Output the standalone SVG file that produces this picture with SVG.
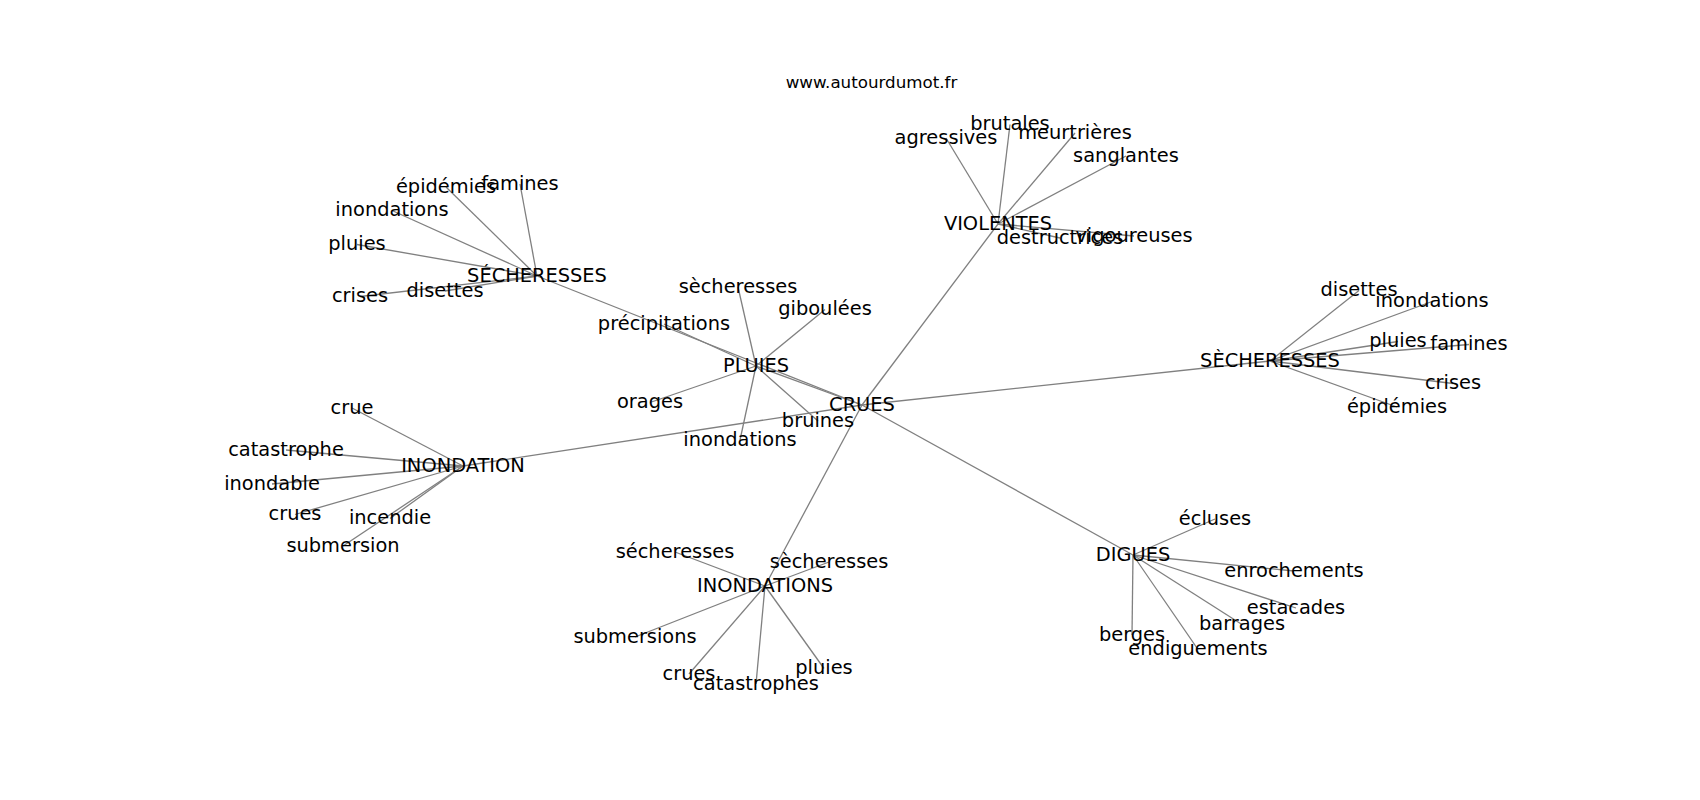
<svg xmlns="http://www.w3.org/2000/svg" width="1700" height="800" viewBox="0 0 1700 800">
<style>
.e{stroke:#808080;stroke-width:1.3;fill:none}
text{font-family:"DejaVu Sans",sans-serif;font-size:19.4px;fill:#000;text-anchor:middle}
.t{font-size:16.7px}
</style>
<rect width="1700" height="800" fill="#fff"/>
<text class="t" x="871.5" y="88">www.autourdumot.fr</text>
<g id="edges">
<line class="e" x1="862" y1="405" x2="756" y2="366"/>
<line class="e" x1="862" y1="405" x2="537" y2="276"/>
<line class="e" x1="862" y1="405" x2="998" y2="224"/>
<line class="e" x1="862" y1="405" x2="1270" y2="361"/>
<line class="e" x1="862" y1="405" x2="463" y2="466"/>
<line class="e" x1="862" y1="405" x2="765" y2="586"/>
<line class="e" x1="862" y1="405" x2="1133" y2="555"/>
<line class="e" x1="756" y1="366" x2="738" y2="287"/>
<line class="e" x1="756" y1="366" x2="825" y2="309.5"/>
<line class="e" x1="756" y1="366" x2="664" y2="324"/>
<line class="e" x1="756" y1="366" x2="650" y2="402.5"/>
<line class="e" x1="756" y1="366" x2="818" y2="421"/>
<line class="e" x1="756" y1="366" x2="740" y2="440"/>
<line class="e" x1="537" y1="276" x2="520" y2="184"/>
<line class="e" x1="537" y1="276" x2="446" y2="187"/>
<line class="e" x1="537" y1="276" x2="392" y2="210.5"/>
<line class="e" x1="537" y1="276" x2="357" y2="244.5"/>
<line class="e" x1="537" y1="276" x2="360" y2="296.5"/>
<line class="e" x1="537" y1="276" x2="445" y2="291"/>
<line class="e" x1="998" y1="224" x2="1010" y2="124.5"/>
<line class="e" x1="998" y1="224" x2="946" y2="138"/>
<line class="e" x1="998" y1="224" x2="1075" y2="133"/>
<line class="e" x1="998" y1="224" x2="1126" y2="156"/>
<line class="e" x1="998" y1="224" x2="1060" y2="238"/>
<line class="e" x1="998" y1="224" x2="1134" y2="236"/>
<line class="e" x1="1270" y1="361" x2="1359" y2="290.5"/>
<line class="e" x1="1270" y1="361" x2="1432" y2="301.5"/>
<line class="e" x1="1270" y1="361" x2="1398" y2="341.5"/>
<line class="e" x1="1270" y1="361" x2="1469" y2="344.5"/>
<line class="e" x1="1270" y1="361" x2="1453" y2="383.5"/>
<line class="e" x1="1270" y1="361" x2="1397" y2="407"/>
<line class="e" x1="463" y1="466" x2="352" y2="408"/>
<line class="e" x1="463" y1="466" x2="286" y2="450"/>
<line class="e" x1="463" y1="466" x2="272" y2="484"/>
<line class="e" x1="463" y1="466" x2="295" y2="514.5"/>
<line class="e" x1="463" y1="466" x2="390" y2="518.5"/>
<line class="e" x1="463" y1="466" x2="343" y2="546"/>
<line class="e" x1="765" y1="586" x2="675" y2="552"/>
<line class="e" x1="765" y1="586" x2="829" y2="562"/>
<line class="e" x1="765" y1="586" x2="635" y2="637"/>
<line class="e" x1="765" y1="586" x2="689" y2="674"/>
<line class="e" x1="765" y1="586" x2="756" y2="684"/>
<line class="e" x1="765" y1="586" x2="824" y2="668.5"/>
<line class="e" x1="1133" y1="555" x2="1215" y2="519"/>
<line class="e" x1="1133" y1="555" x2="1294" y2="571"/>
<line class="e" x1="1133" y1="555" x2="1296" y2="608"/>
<line class="e" x1="1133" y1="555" x2="1242" y2="624.5"/>
<line class="e" x1="1133" y1="555" x2="1132" y2="635"/>
<line class="e" x1="1133" y1="555" x2="1198" y2="649.5"/>
</g>
<g id="n-crues"><text x="862" y="410.5">CRUES</text></g>
<g id="n-pluies"><text x="756" y="371.5">PLUIES</text></g>
<g id="n-pl-secheresses"><text x="738" y="292.5">sècheresses</text></g>
<g id="n-pl-giboulees"><text x="825" y="315">giboulées</text></g>
<g id="n-pl-precipitations"><text x="664" y="329.5">précipitations</text></g>
<g id="n-pl-orages"><text x="650" y="408">orages</text></g>
<g id="n-pl-bruines"><text x="818" y="426.5">bruines</text></g>
<g id="n-pl-inondations"><text x="740" y="445.5">inondations</text></g>
<g id="n-secheresses-l"><text x="537" y="281.5">SÉCHERESSES</text></g>
<g id="n-sl-famines"><text x="520" y="189.5">famines</text></g>
<g id="n-sl-epidemies"><text x="446" y="192.5">épidémies</text></g>
<g id="n-sl-inondations"><text x="392" y="216">inondations</text></g>
<g id="n-sl-pluies"><text x="357" y="250">pluies</text></g>
<g id="n-sl-crises"><text x="360" y="302">crises</text></g>
<g id="n-sl-disettes"><text x="445" y="296.5">disettes</text></g>
<g id="n-violentes"><text x="998" y="229.5">VIOLENTES</text></g>
<g id="n-v-brutales"><text x="1010" y="130">brutales</text></g>
<g id="n-v-agressives"><text x="946" y="143.5">agressives</text></g>
<g id="n-v-meurtrieres"><text x="1075" y="138.5">meurtrières</text></g>
<g id="n-v-sanglantes"><text x="1126" y="161.5">sanglantes</text></g>
<g id="n-v-destructrices"><text x="1060" y="243.5">destructrices</text></g>
<g id="n-v-vigoureuses"><text x="1134" y="241.5">vigoureuses</text></g>
<g id="n-secheresses-r"><text x="1270" y="366.5">SÈCHERESSES</text></g>
<g id="n-sr-disettes"><text x="1359" y="296">disettes</text></g>
<g id="n-sr-inondations"><text x="1432" y="307">inondations</text></g>
<g id="n-sr-pluies"><text x="1398" y="347">pluies</text></g>
<g id="n-sr-famines"><text x="1469" y="350">famines</text></g>
<g id="n-sr-crises"><text x="1453" y="389">crises</text></g>
<g id="n-sr-epidemies"><text x="1397" y="412.5">épidémies</text></g>
<g id="n-inondation"><text x="463" y="471.5">INONDATION</text></g>
<g id="n-i-crue"><text x="352" y="413.5">crue</text></g>
<g id="n-i-catastrophe"><text x="286" y="455.5">catastrophe</text></g>
<g id="n-i-inondable"><text x="272" y="489.5">inondable</text></g>
<g id="n-i-crues"><text x="295" y="520">crues</text></g>
<g id="n-i-incendie"><text x="390" y="524">incendie</text></g>
<g id="n-i-submersion"><text x="343" y="551.5">submersion</text></g>
<g id="n-inondations"><text x="765" y="591.5">INONDATIONS</text></g>
<g id="n-is-secheresses1"><text x="675" y="557.5">sécheresses</text></g>
<g id="n-is-secheresses2"><text x="829" y="567.5">sècheresses</text></g>
<g id="n-is-submersions"><text x="635" y="642.5">submersions</text></g>
<g id="n-is-crues"><text x="689" y="679.5">crues</text></g>
<g id="n-is-catastrophes"><text x="756" y="689.5">catastrophes</text></g>
<g id="n-is-pluies"><text x="824" y="674">pluies</text></g>
<g id="n-digues"><text x="1133" y="560.5">DIGUES</text></g>
<g id="n-d-ecluses"><text x="1215" y="524.5">écluses</text></g>
<g id="n-d-enrochements"><text x="1294" y="576.5">enrochements</text></g>
<g id="n-d-estacades"><text x="1296" y="613.5">estacades</text></g>
<g id="n-d-barrages"><text x="1242" y="630">barrages</text></g>
<g id="n-d-berges"><text x="1132" y="640.5">berges</text></g>
<g id="n-d-endiguements"><text x="1198" y="655">endiguements</text></g>
</svg>
